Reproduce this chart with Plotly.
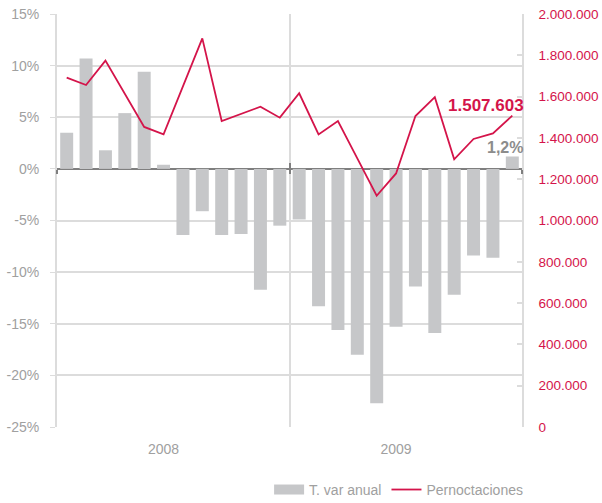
import plotly.graph_objects as go

months = list(range(1, 25))
year_labels = ["2008", "2009"]
year_positions = [6, 18]
year_bounds = [0.5, 12.5, 24.5]

var_anual = [3.5, 10.7, 1.8, 5.4, 9.4, 0.4, -6.4, -4.1, -6.4, -6.3, -11.7, -5.5,
             -4.9, -13.3, -15.6, -18.0, -22.7, -15.3, -11.4, -15.9, -12.2, -8.4, -8.6, 1.2]

pernoctaciones = [1692000, 1656000, 1774000, 1613000, 1453000, 1417000, 1650000, 1882000,
                  1482000, 1516000, 1551000, 1498000, 1616000, 1417000, 1482000, 1301000,
                  1120000, 1228000, 1506000, 1597000, 1296000, 1395000, 1422000, 1507603]

left_ticks = [-25, -20, -15, -10, -5, 0, 5, 10, 15]
left_ticktext = ["-25%", "-20%", "-15%", "-10%", "-5%", "0%", "5%", "10%", "15%"]
right_ticks = [0, 200000, 400000, 600000, 800000, 1000000, 1200000, 1400000,
               1600000, 1800000, 2000000]

GREY_BAR = "#c6c7c9"
CRIMSON = "#d4144a"
GRID = "#dcdcdc"
TXT = "#a0a0a0"
AXIS_DARK = "#7f7f7f"

fig = go.Figure()
fig.add_trace(go.Bar(x=months, y=var_anual, name="T. var anual", showlegend=False,
                     marker=dict(color=GREY_BAR, line=dict(width=0)), yaxis="y"))
# legend-only entry drawn as a wide grey swatch
fig.add_trace(go.Scatter(x=[None], y=[None], name="T. var anual", mode="lines",
                         line=dict(color=GREY_BAR, width=11), hoverinfo="skip"))
fig.add_trace(go.Scatter(x=months, y=pernoctaciones, name="Pernoctaciones", mode="lines",
                         line=dict(color=CRIMSON, width=1.8), yaxis="y2"))
# axes used only to draw the small ticks on the zero line
fig.add_trace(go.Scatter(x=[None], y=[None], xaxis="x2", showlegend=False, hoverinfo="skip"))
fig.add_trace(go.Scatter(x=[None], y=[None], xaxis="x3", showlegend=False, hoverinfo="skip"))

fig.add_annotation(x=months[-1], y=pernoctaciones[-1], yref="y2",
                   text="<b>" + f"{pernoctaciones[-1]:,}".replace(",", ".") + "</b>",
                   showarrow=False, xanchor="right", yanchor="middle", xshift=14, yshift=10,
                   font=dict(size=17, color=CRIMSON, family="Liberation Sans"))
fig.add_annotation(x=months[-1], y=var_anual[-1], yref="y",
                   text="<b>" + f"{var_anual[-1]:.1f}".replace(".", ",") + "%</b>",
                   showarrow=False, xanchor="right", yanchor="middle", xshift=13, yshift=9,
                   font=dict(size=16, color="#8c8c8c", family="Liberation Sans"))

zero_pos = (0 - (-25)) / (15 - (-25))

fig.update_layout(
    width=602, height=503,
    margin=dict(l=57, r=80, t=14, b=76, autoexpand=False),
    paper_bgcolor="white", plot_bgcolor="white",
    font=dict(family="Liberation Sans", size=14, color=TXT),
    separators=",.",
    bargap=0.33,
    showlegend=True,
    hovermode=False,
    legend=dict(orientation="h", xref="container", yref="container",
                x=0.447, y=0.026, xanchor="left", yanchor="middle",
                font=dict(size=14, color=TXT), traceorder="normal", itemwidth=30),
    xaxis=dict(range=[0.5, 24.5], tickmode="array", tickvals=year_positions,
               ticktext=year_labels, showgrid=False, zeroline=False, ticks="",
               showline=False, automargin=False, ticklabelstandoff=12,
               tickfont=dict(size=14, color=TXT),
               minor=dict(tickmode="array", tickvals=year_bounds, showgrid=True,
                          gridcolor=GRID, gridwidth=1.5)),
    xaxis2=dict(range=[0.5, 24.5], overlaying="x", anchor="free", position=zero_pos,
                tickmode="array", tickvals=year_bounds, ticks="outside", ticklen=4,
                tickwidth=1.5, tickcolor=AXIS_DARK, showticklabels=False, showgrid=False,
                zeroline=False, showline=False, automargin=False),
    xaxis3=dict(range=[0.5, 24.5], overlaying="x", anchor="free", position=zero_pos,
                tickmode="array", tickvals=year_bounds, ticks="inside", ticklen=6,
                tickwidth=1.5, tickcolor=AXIS_DARK, showticklabels=False, showgrid=False,
                zeroline=False, showline=False, automargin=False),
    yaxis=dict(range=[-25, 15], tickmode="array", tickvals=left_ticks, ticktext=left_ticktext,
               showgrid=True, gridcolor=GRID, gridwidth=1.5, zeroline=True, zerolinecolor=AXIS_DARK,
               zerolinewidth=2, showline=True, linecolor=GRID, linewidth=2, automargin=False,
               ticks="outside", ticklen=5, tickcolor=GRID, ticklabelstandoff=8,
               tickfont=dict(size=14, color=TXT)),
    yaxis2=dict(range=[0, 2000000], overlaying="y", side="right", tickmode="array",
                tickvals=right_ticks, tickformat=",d", showgrid=False, zeroline=False,
                showline=True, linecolor=GRID, linewidth=1.5, ticks="inside", ticklen=5,
                tickcolor=GRID, tickwidth=1.5, ticklabelstandoff=12, automargin=False,
                tickfont=dict(size=13.5, color=CRIMSON)),
)

fig.write_html("out.html", config={"displayModeBar": False},
               post_script="document.body.style.margin='0';")
